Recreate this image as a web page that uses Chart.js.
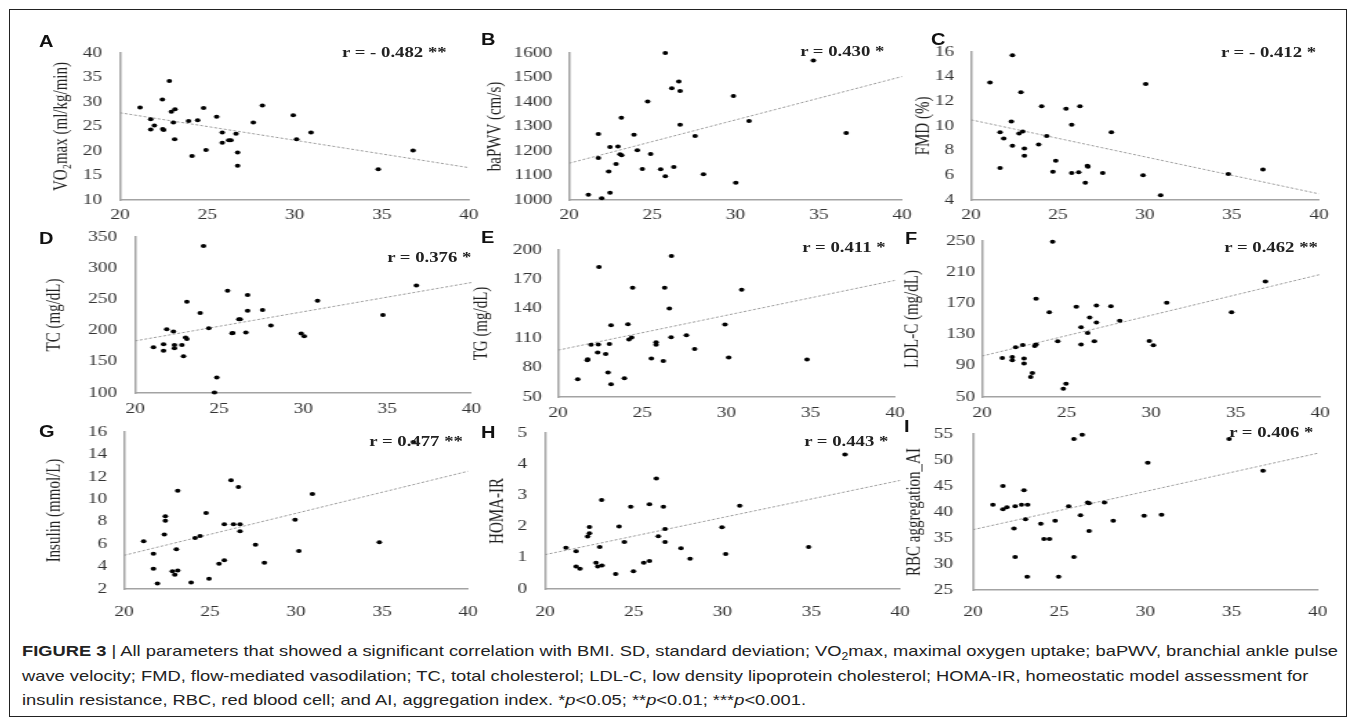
<!DOCTYPE html>
<html>
<head>
<meta charset="utf-8">
<script src="https://cdn.jsdelivr.net/npm/chart.js@4.4.0/dist/chart.umd.min.js"></script>
<style>
  html, body { margin: 0; padding: 0; background: #fff; }
  #fig { position: relative; width: 1355px; height: 726px; overflow: hidden; background: #fff; }
  #frame { position: absolute; left: 9px; top: 9px; width: 1336px; height: 706px; border: 1px solid #222; }
  canvas { position: absolute; }
  .letter { position: absolute; font: bold 16px "Liberation Sans", Arial, sans-serif; color: #111; line-height: 1;
            transform: scaleX(1.25); transform-origin: left center; }
  .rval { position: absolute; font: bold 15px "Liberation Serif", "Times New Roman", serif; color: #222; line-height: 1;
          white-space: nowrap; transform: scaleX(1.25); transform-origin: right center; }
  #cap { position: absolute; left: 22px; top: 639px; font: 15px "Liberation Sans", Arial, sans-serif; color: #222;
         line-height: 24.5px; white-space: nowrap; transform-origin: left top; }
  #cap span { display: block; }
  #cap sub { font-size: 10px; line-height: 0; }
</style>
</head>
<body>
<div id="fig">
  <div id="frame"></div>
  <div id="cap">
    <span id="capLine1"><b>FIGURE 3</b> | All parameters that showed a significant correlation with BMI. SD, standard deviation; VO<sub>2</sub>max, maximal oxygen uptake; baPWV, branchial ankle pulse</span>
    <span>wave velocity; FMD, flow-mediated vasodilation; TC, total cholesterol; LDL-C, low density lipoprotein cholesterol; HOMA-IR, homeostatic model assessment for</span>
    <span>insulin resistance, RBC, red blood cell; and AI, aggregation index. *<i>p</i>&lt;0.05; **<i>p</i>&lt;0.01; ***<i>p</i>&lt;0.001.</span>
  </div>
</div>
<script>
// === DATA ===
const bmiTicks = [20, 25, 30, 35, 40];

const aBmi = [21.15, 21.76, 21.97, 21.76, 22.43, 22.45, 22.5, 22.83, 22.94, 23.15, 23.06, 23.13, 23.93, 24.13, 24.45, 24.79,
  24.93, 25.54, 25.86, 25.86, 26.23, 26.36, 26.65, 26.74, 26.74, 27.64, 28.16, 29.93, 30.12, 30.95, 34.8, 36.8];
const aVo2max = [28.9, 26.5, 25.2, 24.4, 30.5, 24.5, 24.3, 34.3, 28.0, 28.5, 25.8, 22.4, 26.1, 19.0, 26.3, 28.8,
  20.2, 27.0, 23.8, 21.7, 22.2, 22.2, 23.5, 19.7, 17.0, 25.8, 29.3, 27.3, 22.4, 23.8, 16.3, 20.1];

const bBmi = [21.16, 21.96, 22.46, 21.76, 21.76, 22.38, 22.46, 22.82, 22.94, 23.06, 23.16, 23.14, 23.9, 24.1, 24.4, 24.72,
  24.9, 25.5, 25.78, 25.78, 26.17, 26.29, 26.59, 26.67, 26.67, 27.57, 28.07, 29.87, 30.01, 30.81, 34.67, 36.64];
const bBaPWV = [1021, 1007, 1030, 1269, 1171, 1116, 1216, 1147, 1218, 1187, 1183, 1336, 1266, 1203, 1127, 1402,
  1188, 1126, 1097, 1600, 1456, 1135, 1484, 1445, 1307, 1261, 1105, 1424, 1070, 1322, 1569, 1273];

const cBmi = [21.09, 21.67, 21.67, 21.88, 22.38, 22.32, 22.38, 22.87, 22.76, 22.97, 23.07, 23.07, 23.89, 24.06, 24.35, 24.87,
  24.71, 25.46, 25.79, 25.79, 26.19, 26.26, 26.57, 26.69, 26.72, 27.57, 28.07, 29.89, 30.04, 30.9, 34.79, 36.78];
const cFmd = [13.52, 9.5, 6.6, 8.99, 15.73, 10.36, 8.39, 12.74, 9.39, 9.55, 8.18, 7.58, 8.5, 11.6, 9.18, 7.18,
  6.29, 11.39, 10.1, 6.18, 6.26, 11.6, 5.4, 6.78, 6.7, 6.18, 9.5, 6.0, 13.41, 4.38, 6.1, 6.48];

const dBmi = [21.09, 21.69, 21.69, 21.88, 22.28, 22.34, 22.34, 22.78, 22.88, 23.0, 23.08, 23.08, 23.87, 24.07, 24.38, 24.86,
  24.72, 25.5, 25.77, 25.81, 26.17, 26.25, 26.59, 26.69, 26.69, 27.58, 28.08, 29.88, 30.06, 30.85, 34.74, 36.73];
const dTc = [173.4, 178.2, 167.6, 202.1, 198.4, 177.1, 171.8, 177.1, 159.0, 188.8, 186.7, 246.3, 228.2, 335.6, 203.7, 125,
  101, 263.8, 195.7, 196.3, 218.1, 218, 196.8, 256.9, 231.9, 233, 208, 195.2, 191, 247.9, 225, 272.3];

const eBmi = [21.17, 21.74, 21.76, 21.96, 22.39, 22.43, 22.35, 22.83, 22.97, 23.05, 23.15, 23.15, 23.94, 24.15, 24.43, 24.21,
  24.37, 25.54, 25.82, 25.82, 26.25, 26.33, 26.61, 26.71, 26.73, 27.62, 28.11, 29.91, 30.13, 30.9, 34.78, 36.74];
const eTg = [68.1, 87.5, 88.5, 103.2, 103.5, 182.6, 95.3, 94, 74.9, 104.2, 63, 123.3, 69.1, 124.3, 161.5, 108.6,
  110.7, 89.2, 105.9, 103.2, 86.8, 161.5, 140.3, 111, 193.9, 113.1, 99.1, 124, 90.2, 159.4, 88.2, 210.2];

const fBmi = [21.2, 21.79, 21.79, 21.99, 22.41, 22.49, 22.49, 22.98, 22.88, 23.12, 23.2, 23.2, 23.98, 24.18, 24.48, 24.97,
  24.81, 25.58, 25.86, 25.86, 26.25, 26.37, 26.65, 26.77, 26.77, 27.63, 28.15, 29.9, 30.14, 30.93, 34.77, 36.77];
const fLdl = [100.1, 101.4, 97.1, 113.8, 116.8, 99.2, 92.8, 80.8, 75.7, 115.5, 117.2, 175.9, 158.8, 249.1, 121.5, 67.1,
  60.7, 165.6, 139.5, 117.2, 132.2, 151.9, 121.5, 167.3, 145.5, 166.5, 147.6, 121.9, 116.4, 170.8, 158.8, 198.2];

const gBmi = [21.14, 21.71, 21.71, 21.94, 22.34, 22.4, 22.4, 22.81, 22.95, 23.12, 23.04, 23.12, 23.9, 24.13, 24.42, 24.77,
  24.94, 25.52, 25.83, 25.83, 26.22, 26.36, 26.65, 26.74, 26.74, 27.64, 28.16, 29.94, 30.16, 30.95, 34.84, 36.82];
const gInsulin = [6.25, 5.15, 3.81, 2.48, 6.85, 8.48, 8.09, 3.58, 3.28, 3.64, 5.54, 10.77, 2.57, 6.55, 6.73, 8.78,
  2.92, 4.26, 4.56, 7.77, 11.69, 7.77, 11.1, 7.77, 7.14, 5.95, 4.35, 8.18, 5.39, 10.47, 6.16, 15.11];

const hBmi = [21.18, 21.75, 21.75, 21.97, 22.4, 22.5, 22.5, 22.87, 22.97, 23.21, 23.08, 23.19, 23.98, 24.17, 24.47, 24.83,
  24.98, 25.56, 25.88, 25.88, 26.27, 26.38, 26.67, 26.76, 26.76, 27.66, 28.17, 29.97, 30.18, 30.97, 34.85, 36.9];
const hHoma = [1.32, 1.21, 0.72, 0.65, 1.68, 1.99, 1.79, 0.84, 0.72, 0.75, 1.35, 2.85, 0.48, 2.0, 1.51, 2.64,
  0.57, 0.84, 0.9, 2.72, 3.54, 1.69, 2.64, 1.92, 1.51, 1.31, 0.97, 1.98, 1.12, 2.67, 1.35, 4.31];

const iBmi = [21.16, 21.74, 21.74, 21.97, 22.38, 22.45, 22.45, 22.96, 22.82, 23.17, 23.05, 23.15, 23.94, 24.12, 24.44, 24.77,
  24.97, 25.55, 25.86, 25.86, 26.34, 26.24, 26.65, 26.74, 26.74, 27.63, 28.14, 29.93, 30.14, 30.94, 34.86, 36.83];
const iRbcAi = [41.38, 44.98, 40.55, 40.93, 36.82, 41.12, 31.36, 44.2, 41.38, 41.38, 38.62, 27.57, 37.72, 34.83, 34.83, 38.3,
  27.57, 41.12, 54.04, 31.36, 54.87, 39.39, 41.83, 41.7, 36.37, 41.83, 38.3, 39.26, 49.48, 39.45, 54.04, 47.93];

// trendline values at BMI 20 and 40
const trendA = [27.8, 16.6];
const trendB = [1150, 1504];
const trendC = [10.5, 4.5];
const trendD = [183.5, 277];
const trendE = [97.8, 169];
const trendF = [102.5, 207];
const trendG = [5.0, 12.5];
const trendH = [1.1, 3.48];
const trendI = [36.6, 51.3];

const panelLetters = ['A', 'B', 'C', 'D', 'E', 'F', 'G', 'H', 'I'];
const yTitles = ['VO₂max (ml/kg/min)', 'baPWV (cm/s)', 'FMD (%)', 'TC (mg/dL)', 'TG (mg/dL)', 'LDL-C (mg/dL)',
  'Insulin (mmol/L)', 'HOMA-IR', 'RBC aggregation_AI'];
const rLabels = ['r = - 0.482 **', 'r = 0.430 *', 'r = - 0.412 *', 'r = 0.376 *', 'r = 0.411 *', 'r = 0.462 **',
  'r = 0.477 **', 'r = 0.443 *', 'r = 0.406 *'];
const yRanges = [[10, 40, 5], [1000, 1600, 100], [4, 16, 2], [100, 350, 50], [50, 200, 30], [50, 250, 20],
  [2, 16, 2], [0, 5, 1], [25, 55, 5]];

const series = [
  [aBmi, aVo2max, trendA], [bBmi, bBaPWV, trendB], [cBmi, cFmd, trendC],
  [dBmi, dTc, trendD], [eBmi, eTg, trendE], [fBmi, fLdl, trendF],
  [gBmi, gInsulin, trendG], [hBmi, hHoma, trendH], [iBmi, iRbcAi, trendI]
];

// === LAYOUT (css px): plot box, title gap, tick gap, x label offset ===
const boxes = [
  { L: 120, R: 469, T: 53, B: 200, tGap: 58, kGap: 18, xOff: 15.5 },
  { L: 569, R: 902, T: 53, B: 200, tGap: 74, kGap: 17, xOff: 15.5 },
  { L: 971, R: 1319, T: 52, B: 200, tGap: 47, kGap: 17, xOff: 15.5 },
  { L: 135, R: 471, T: 237, B: 393, tGap: 80, kGap: 18, xOff: 16 },
  { L: 558, R: 895, T: 250, B: 397, tGap: 76, kGap: 16, xOff: 16 },
  { L: 982, R: 1320, T: 241, B: 397, tGap: 70, kGap: 7, xOff: 16 },
  { L: 124, R: 468, T: 432, B: 589, tGap: 69, kGap: 17, xOff: 23 },
  { L: 545, R: 900, T: 433, B: 589, tGap: 47, kGap: 18, xOff: 23 },
  { L: 973, R: 1318, T: 434, B: 590, tGap: 58, kGap: 20, xOff: 22 }
];
const letterPos = [[39, 34], [481, 32], [931, 32], [39, 231], [481, 230], [905, 231], [39, 424], [481, 425], [904, 419]];
const rPos = [[447, 45], [884, 44], [1316, 45], [471, 250], [886, 240], [1318, 240], [463, 434], [888, 434], [1313, 425]];

const S = 1.38;              // horizontal stretch of the original figure
const serif = '"Liberation Serif", "Times New Roman", serif';
const axisColor = '#a3a3a3';
const fig = document.getElementById('fig');

function zeroPad(s) {
  s.paddingLeft = 0; s.paddingRight = 0; s.paddingTop = 0; s.paddingBottom = 0;
}

function makePanel(k) {
  const [xs, ys, trend] = series[k];
  const [yMin, yMax, yStep] = yRanges[k];
  const box = boxes[k];
  const leftCss = 100, rightCss = 16, topCss = 20, bottomCss = 40;

  const plotW = (box.R - box.L) / S;
  const yw = leftCss / S;
  const W = Math.ceil(yw + plotW + rightCss / S);
  const H = box.B - box.T + topCss + bottomCss;

  const cv = document.createElement('canvas');
  cv.width = W;
  cv.height = H;
  cv.style.left = (box.L - leftCss) + 'px';
  cv.style.top = (box.T - topCss) + 'px';
  cv.style.width = (W * S) + 'px';
  cv.style.height = H + 'px';
  fig.appendChild(cv);

  new Chart(cv, {
    type: 'scatter',
    data: {
      datasets: [
        {
          data: xs.map((x, i) => ({ x: x, y: ys[i] })),
          pointRadius: 2,
          pointHoverRadius: 2,
          backgroundColor: '#000',
          borderWidth: 0,
          clip: false
        },
        {
          data: [{ x: bmiTicks[0], y: trend[0] }, { x: bmiTicks[bmiTicks.length - 1], y: trend[1] }],
          showLine: true,
          borderColor: '#9a9a9a',
          borderWidth: 1,
          borderDash: [2, 1.5],
          pointRadius: 0,
          fill: false
        }
      ]
    },
    options: {
      responsive: false,
      animation: false,
      devicePixelRatio: 1,
      events: [],
      layout: { padding: { left: 0, top: topCss, right: W - yw - plotW, bottom: 0 } },
      plugins: { legend: { display: false }, tooltip: { enabled: false } },
      scales: {
        x: {
          type: 'linear',
          min: bmiTicks[0],
          max: bmiTicks[bmiTicks.length - 1],
          afterBuildTicks: (s) => { s.ticks = bmiTicks.map(v => ({ value: v })); },
          ticks: { padding: box.xOff - 8.4, color: '#333', font: { family: serif, size: 14 },
                   callback: (v) => String(v) },
          grid: { display: false, drawTicks: false },
          border: { display: true, color: axisColor, width: 1.5 },
          afterFit: (s) => { s.height = bottomCss; zeroPad(s); }
        },
        y: {
          type: 'linear',
          min: yMin,
          max: yMax,
          ticks: { stepSize: yStep, padding: box.kGap / S, color: '#333', font: { family: serif, size: 14 },
                   callback: (v) => String(v) },
          grid: { display: false, drawTicks: false },
          border: { display: true, color: axisColor, width: 1.5 },
          title: {
            display: true,
            text: yTitles[k],
            color: '#222',
            font: { family: serif, size: 15 },
            padding: { top: (leftCss - box.tGap) / S - 9, bottom: 0 }
          },
          afterFit: (s) => { s.width = yw; zeroPad(s); }
        }
      }
    }
  });

  const lt = document.createElement('div');
  lt.className = 'letter';
  lt.textContent = panelLetters[k];
  lt.style.left = letterPos[k][0] + 'px';
  lt.style.top = letterPos[k][1] + 'px';
  fig.appendChild(lt);

  const rv = document.createElement('div');
  rv.className = 'rval';
  rv.textContent = rLabels[k];
  rv.style.right = (1355 - rPos[k][0]) + 'px';
  rv.style.top = rPos[k][1] + 'px';
  fig.appendChild(rv);
}

for (let k = 0; k < 9; k++) makePanel(k);

// fit the caption's first line to the figure width
const cap = document.getElementById('cap');
const line1 = document.getElementById('capLine1');
const sx = 1316 / line1.getBoundingClientRect().width;
cap.style.transform = 'scaleX(' + sx.toFixed(4) + ')';
</script>
</body>
</html>
